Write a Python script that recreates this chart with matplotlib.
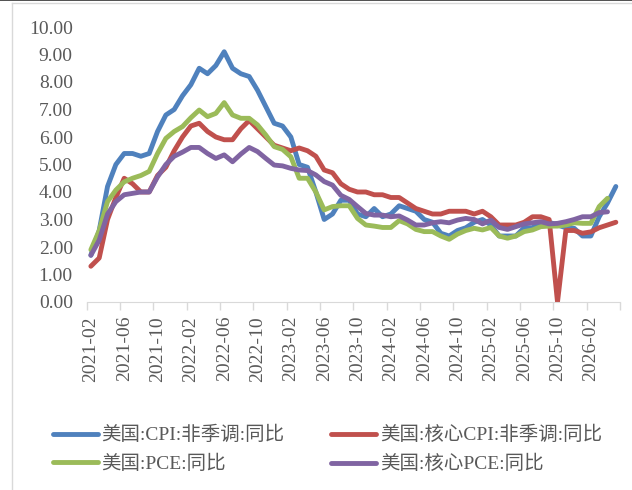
import matplotlib
matplotlib.use("Agg")
import matplotlib.pyplot as plt
import numpy as np
import pandas as pd
from matplotlib.lines import Line2D

# monthly categories, 2021-02 .. 2026-05
months = pd.period_range("2021-02", periods=64, freq="M").strftime("%Y-%m").tolist()

cpi = [
    1.7, 2.6, 4.2, 5.0, 5.4, 5.4, 5.3, 5.4, 6.2, 6.8, 7.0, 7.5,
    7.9, 8.5, 8.3, 8.6, 9.1, 8.5, 8.3, 8.2, 7.7, 7.1, 6.5, 6.4,
    6.0, 5.0, 4.9, 4.0, 3.0, 3.2, 3.7, 3.7, 3.2, 3.1, 3.4, 3.1,
    3.2, 3.5, 3.4, 3.3, 3.0, 2.9, 2.5, 2.4, 2.6, 2.7, 2.9, 3.0,
    2.8, 2.4, 2.4, 2.4, 2.7, 2.7, 2.9, 2.9, 2.8, 2.7, 2.68, 2.4,
    2.4, 3.1, 3.6, 4.2,
]
core_cpi = [
    1.3, 1.6, 3.0, 3.8, 4.5, 4.3, 4.0, 4.0, 4.6, 4.9, 5.5, 6.0,
    6.4, 6.5, 6.2, 6.0, 5.9, 5.9, 6.3, 6.6, 6.3, 6.0, 5.7, 5.6,
    5.5, 5.6, 5.5, 5.3, 4.8, 4.7, 4.3, 4.1, 4.0, 4.0, 3.9, 3.9,
    3.8, 3.8, 3.6, 3.4, 3.3, 3.2, 3.2, 3.3, 3.3, 3.3, 3.2, 3.3,
    3.1, 2.8, 2.8, 2.8, 2.9, 3.1, 3.1, 3.0, 0.0, 2.6, 2.6, 2.5,
    2.55, 2.7, 2.8, 2.9,
]
pce = [
    1.9, 2.6, 3.65, 4.07, 4.37, 4.5, 4.6, 4.75, 5.4, 5.95, 6.2, 6.38,
    6.7, 6.98, 6.74, 6.86, 7.25, 6.8, 6.68, 6.68, 6.44, 6.07, 5.65, 5.55,
    5.28, 4.5, 4.5, 4.0, 3.35, 3.47, 3.5, 3.5, 3.04, 2.8, 2.76, 2.71,
    2.71, 2.96, 2.84, 2.64, 2.56, 2.56, 2.4, 2.28, 2.47, 2.6, 2.68, 2.62,
    2.71, 2.4, 2.32, 2.4, 2.56, 2.62, 2.74, 2.76, 2.76, 2.8, 2.88, 2.86,
    2.86, 3.47, 3.77,
]
core_pce = [
    1.7, 2.25, 3.2, 3.65, 3.9, 3.95, 4.0, 4.0, 4.55, 5.0, 5.3, 5.45,
    5.62, 5.62, 5.4, 5.22, 5.35, 5.1, 5.38, 5.62, 5.47, 5.22, 4.98, 4.95,
    4.86, 4.8, 4.78, 4.62, 4.38, 4.25, 3.88, 3.73, 3.47, 3.22, 3.16, 3.16,
    3.1, 3.13, 2.98, 2.8, 2.8, 2.88, 2.92, 2.88, 2.98, 3.04, 3.0, 2.84,
    2.98, 2.71, 2.64, 2.74, 2.84, 2.88, 2.92, 2.84, 2.86, 2.92, 3.0, 3.1,
    3.1, 3.25, 3.28,
]

series = [
    ("美国:CPI:非季调:同比", cpi, "#4F81BD"),
    ("美国:核心CPI:非季调:同比", core_cpi, "#C0504D"),
    ("美国:PCE:同比", pce, "#9BBB59"),
    ("美国:核心PCE:同比", core_pce, "#8064A2"),
]

plt.rcParams["font.family"] = ["Liberation Serif", "Noto Sans CJK SC"]
text_color = "#595959"
axis_color = "#d9d9d9"

W, H = 632, 490
fig = plt.figure(figsize=(W / 100, H / 100), dpi=100)
ax = fig.add_axes([86.7 / W, 1 - 302 / H, (620 - 86.7) / W, 275 / H])

lines = {}
for label, values, color in series:
    (ln,) = ax.plot(
        np.arange(len(values)), values, color=color, lw=3.5, label=label,
        solid_joinstyle="round", solid_capstyle="round",
    )
    lines[label] = ln

ax.set_xlim(-0.5, len(months) - 0.5)
ax.set_ylim(0, 10)
ax.set_yticks(np.arange(0, 11, 1))
ax.set_yticklabels([f"{v:.2f}" for v in range(11)])
ax.set_xticks(np.arange(0, len(months), 4))
ax.set_xticklabels(months[::4], rotation=90)
ax.set_xticks(np.arange(-0.5, len(months), 4), minor=True)

ax.tick_params(axis="x", which="major", length=0, pad=10, labelsize=14, labelcolor=text_color)
ax.tick_params(axis="x", which="minor", length=6, width=1, color=axis_color)
ax.tick_params(axis="y", length=0, pad=10, labelsize=14, labelcolor=text_color)
for side in ("top", "right", "left"):
    ax.spines[side].set_visible(False)
ax.spines["bottom"].set_color(axis_color)

# legend: row 1 CPI / core CPI, row 2 PCE / core PCE
order = [series[0][0], series[2][0], series[1][0], series[3][0]]
fig.legend(
    [lines[k] for k in order], order,
    ncol=2, loc="upper left", bbox_to_anchor=(53 / W, 1 - 426 / H),
    frameon=False, fontsize=14, labelcolor=text_color,
    handlelength=2.3, handletextpad=0.2, columnspacing=2.4,
    labelspacing=0.55, borderpad=0, borderaxespad=0,
)

# chart frame edges
fig.add_artist(Line2D([0, 1], [1 - 0.5 / H] * 2, color="#333333", lw=1.2))
fig.add_artist(Line2D([12 / W, 1], [1 - 3 / H] * 2, color=axis_color, lw=1))
fig.add_artist(Line2D([12 / W] * 2, [0, 1 - 3 / H], color=axis_color, lw=1))

fig.savefig("out.png", dpi=100)
